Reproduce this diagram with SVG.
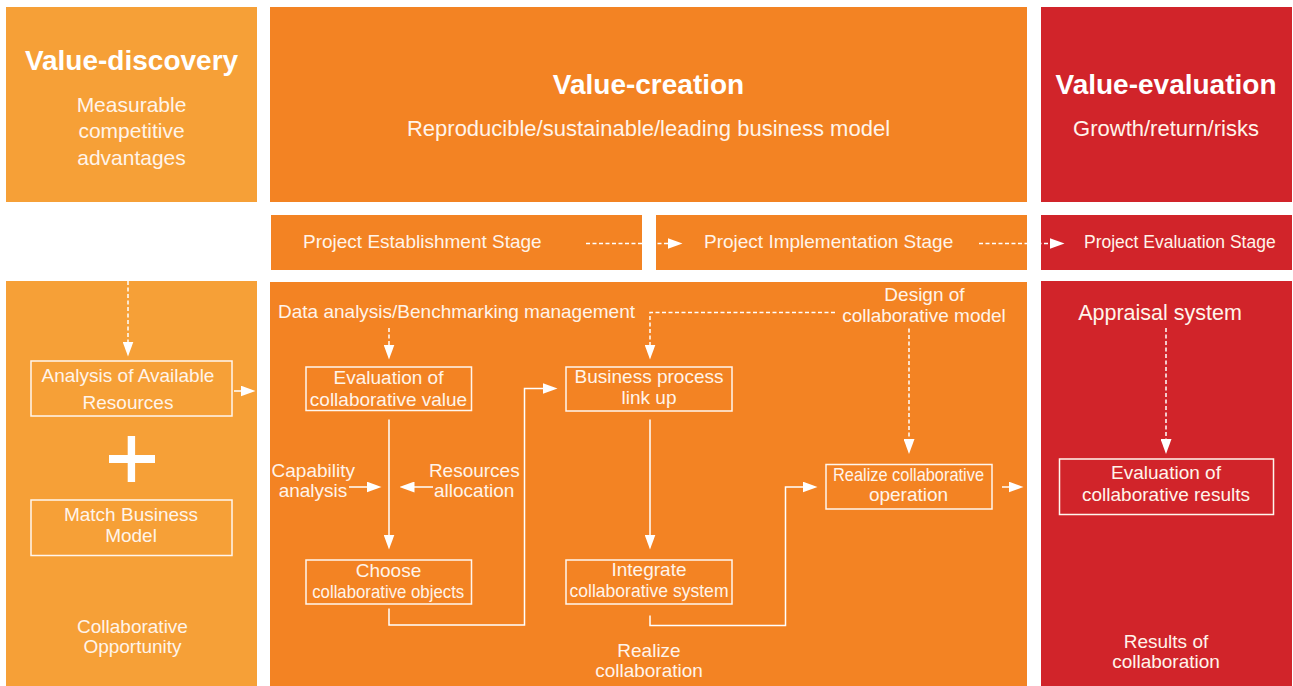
<svg xmlns="http://www.w3.org/2000/svg" width="1293" height="686" viewBox="0 0 1293 686">
<defs>
<style>
.light{fill:#F6A037}
.mid{fill:#F38323}
.red{fill:#D1242A}
.title{font-family:"Liberation Sans",Arial,sans-serif;font-weight:bold;font-size:28px;fill:#FFFFFF;text-anchor:middle}
.sub{font-family:"Liberation Sans",Arial,sans-serif;font-size:22px;fill:#FFF4EA;text-anchor:middle}
.t{font-family:"Liberation Sans",Arial,sans-serif;font-size:19px;fill:#FFF4EA;text-anchor:middle}
.ts{font-family:"Liberation Sans",Arial,sans-serif;font-size:19px;fill:#FFF4EA}
.box{fill:none;stroke:#FFF6EE;stroke-width:1.5}
.ln{fill:none;stroke:#FFFFFF;stroke-width:1.5}
.dash{fill:none;stroke:#FFFFFF;stroke-width:1.5;stroke-dasharray:4 2.5}
</style>
<marker id="ah" markerWidth="15" markerHeight="11" refX="0.5" refY="5.5" orient="auto" markerUnits="userSpaceOnUse">
<path d="M0,0 L15,5.5 L0,11 z" fill="#FFFFFF"/>
</marker>
</defs>
<rect width="1293" height="686" fill="#FFFFFF"/>

<g id="panel-value-discovery">
<rect class="light" x="6" y="7" width="251" height="195"/>
<text class="title" x="131.5" y="69.5">Value-discovery</text>
<text class="sub" x="131.5" y="111.5" style="font-size:21px">Measurable</text>
<text class="sub" x="131.5" y="138" style="font-size:21px">competitive</text>
<text class="sub" x="131.5" y="164.5" style="font-size:21px">advantages</text>
</g>
<g id="panel-value-creation">
<rect class="mid" x="270" y="7" width="757" height="195"/>
<text class="title" x="648.5" y="94">Value-creation</text>
<text class="sub" x="648.5" y="135.5">Reproducible/sustainable/leading business model</text>
</g>
<g id="panel-value-evaluation">
<rect class="red" x="1041" y="7" width="251" height="195"/>
<text class="title" x="1166" y="94">Value-evaluation</text>
<text class="sub" x="1166" y="135.5">Growth/return/risks</text>
</g>

<g id="stage-establishment">
<rect class="mid" x="271" y="215" width="371" height="55"/>
<text class="ts" x="303" y="248.3">Project Establishment Stage</text>
</g>
<g id="stage-implementation">
<rect class="mid" x="656" y="215" width="371" height="55"/>
<text class="ts" x="704" y="248.3">Project Implementation Stage</text>
</g>
<g id="stage-evaluation">
<rect class="red" x="1041" y="215" width="251" height="55"/>
<text class="ts" x="1084" y="248" style="font-size:17.5px">Project Evaluation Stage</text>
</g>

<g id="panel-opportunity">
<rect class="light" x="6" y="281" width="251" height="405"/>
<text class="t" x="132.5" y="632.5">Collaborative</text>
<text class="t" x="132.5" y="653">Opportunity</text>
</g>
<g id="panel-realize">
<rect class="mid" x="270" y="282" width="757" height="404"/>
<text class="t" x="649" y="656.7">Realize</text>
<text class="t" x="649" y="676.7">collaboration</text>
</g>
<g id="panel-results">
<rect class="red" x="1041" y="281" width="251" height="405"/>
<text class="t" x="1166" y="648">Results of</text>
<text class="t" x="1166" y="668">collaboration</text>
</g>

<g id="node-analysis-resources">
<rect class="box" x="31" y="361" width="201" height="55"/>
<text class="t" x="128" y="382.3">Analysis of Available</text>
<text class="t" x="128" y="409">Resources</text>
</g>
<g id="plus-sign">
<rect x="109" y="455" width="46" height="8" fill="#FFFFFF"/>
<rect x="127.7" y="436" width="7.4" height="46" fill="#FFFFFF"/>
</g>
<g id="node-match-model">
<rect class="box" x="31" y="500" width="201" height="55.5"/>
<text class="t" x="131" y="520.7">Match Business</text>
<text class="t" x="131" y="541.7">Model</text>
</g>

<g id="label-data-analysis">
<text class="t" x="456.5" y="318">Data analysis/Benchmarking management</text>
</g>
<g id="node-eval-value">
<rect class="box" x="306" y="367" width="165.5" height="43.5"/>
<text class="t" x="388.5" y="384">Evaluation of</text>
<text class="t" x="388.5" y="405.5">collaborative value</text>
</g>
<g id="label-capability">
<text class="t" x="313.3" y="476.7">Capability</text>
<text class="t" x="313" y="497">analysis</text>
</g>
<g id="label-resources">
<text class="t" x="474.3" y="476.7">Resources</text>
<text class="t" x="474.2" y="497">allocation</text>
</g>
<g id="node-choose">
<rect class="box" x="306" y="560" width="165.5" height="44"/>
<text class="t" x="388.5" y="576.7">Choose</text>
<text class="t" x="388.2" y="598" textLength="152" lengthAdjust="spacingAndGlyphs">collaborative objects</text>
</g>
<g id="node-business-process">
<rect class="box" x="566" y="367" width="166" height="44"/>
<text class="t" x="649" y="382.5">Business process</text>
<text class="t" x="649" y="403.5">link up</text>
</g>
<g id="label-design">
<text class="t" x="924.5" y="301">Design of</text>
<text class="t" x="924" y="321.7">collaborative model</text>
</g>
<g id="node-integrate">
<rect class="box" x="566" y="560" width="166" height="44"/>
<text class="t" x="649" y="575.7">Integrate</text>
<text class="t" x="649" y="596.7" textLength="159" lengthAdjust="spacingAndGlyphs">collaborative system</text>
</g>
<g id="node-realize-operation">
<rect class="box" x="826" y="464.5" width="166" height="44.5"/>
<text class="t" x="908.5" y="480.7" textLength="151" lengthAdjust="spacingAndGlyphs">Realize collaborative</text>
<text class="t" x="908.5" y="501">operation</text>
</g>

<g id="label-appraisal">
<text class="t" x="1160" y="319.5" style="font-size:21.5px">Appraisal system</text>
</g>
<g id="node-eval-results">
<rect class="box" x="1059.5" y="459" width="214" height="55.5"/>
<text class="t" x="1166" y="479">Evaluation of</text>
<text class="t" x="1166" y="501">collaborative results</text>
</g>

<g id="connectors">
<path class="dash" d="M586 243.5 H668" marker-end="url(#ah)"/>
<path class="dash" d="M979 243.5 H1050" marker-end="url(#ah)"/>
<path class="dash" d="M128 281 V342" marker-end="url(#ah)"/>
<path class="ln" d="M234 391 H241" marker-end="url(#ah)"/>
<path class="dash" d="M389 328 V345" marker-end="url(#ah)"/>
<path class="ln" d="M389 419.5 V535" marker-end="url(#ah)"/>
<path class="ln" d="M349 487 H367" marker-end="url(#ah)"/>
<path class="ln" d="M433 487 H414" marker-end="url(#ah)"/>
<path class="ln" d="M389 608.5 V625 H524.5 V388.5 H543" marker-end="url(#ah)"/>
<path class="dash" d="M835 312.5 H650 V345" marker-end="url(#ah)"/>
<path class="dash" d="M909 328.5 V439.5" marker-end="url(#ah)"/>
<path class="ln" d="M650 419.5 V535" marker-end="url(#ah)"/>
<path class="ln" d="M650 615.5 V625.5 H785.5 V487 H803" marker-end="url(#ah)"/>
<path class="ln" d="M1002 487 H1009" marker-end="url(#ah)"/>
<path class="dash" d="M1166 328 V439.5" marker-end="url(#ah)"/>
</g>
</svg>
